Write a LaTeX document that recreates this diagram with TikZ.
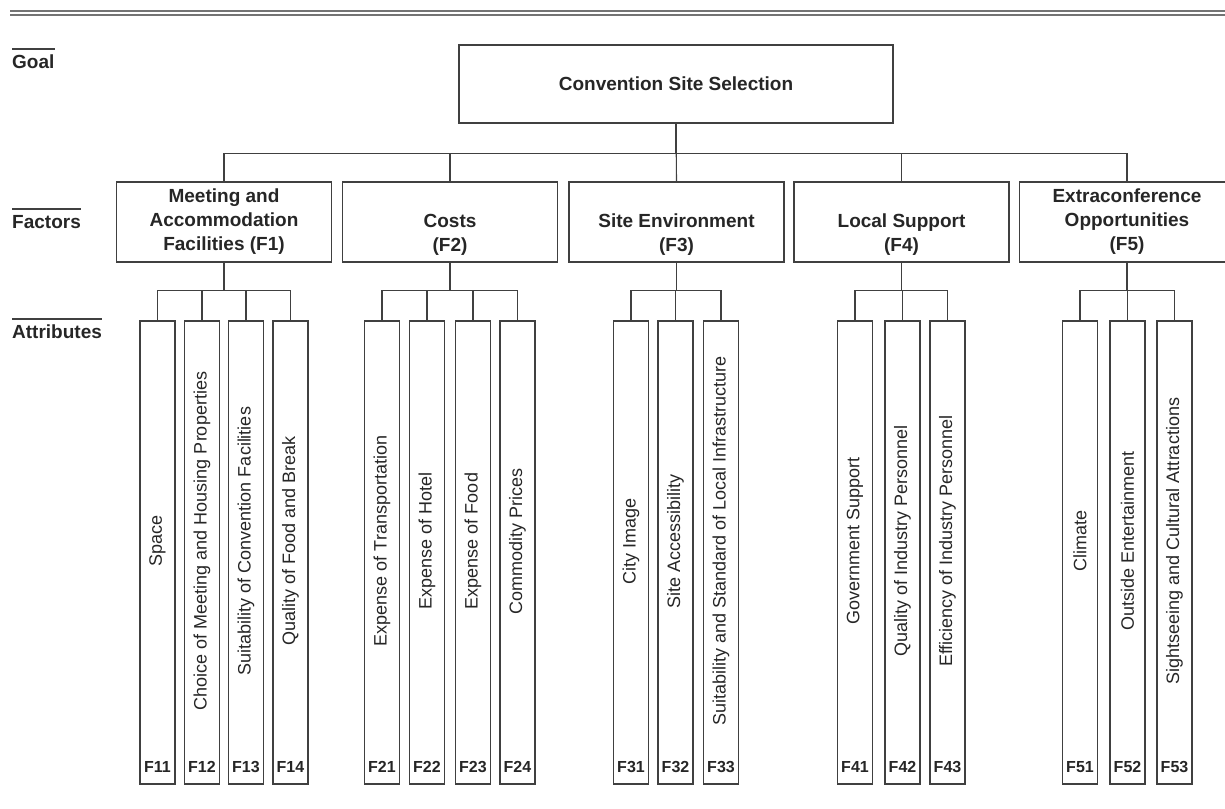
\documentclass[tikz,border=0pt]{standalone}
\usepackage{fontspec}
\setmainfont{Liberation Sans}
\usetikzlibrary{positioning}

\tikzset{
  box/.style={draw=black!75, line width=1.1pt, rectangle, inner sep=0pt, text=black!85},
  goalbox/.style={box, minimum width=434pt, minimum height=78pt,
    font=\bfseries\fontsize{19}{24}\selectfont},
  factorbox/.style={box, minimum width=215pt, minimum height=80pt, align=center,
    font=\bfseries\fontsize{19}{24}\selectfont},
  attrbox/.style={box, minimum width=35pt, minimum height=463pt},
  attrtext/.style={rotate=90, inner sep=0pt, text=black!85,
    font=\fontsize{18}{20}\selectfont},
  attrid/.style={anchor=base, inner sep=0pt, text=black!85,
    font=\bfseries\fontsize{16}{18}\selectfont},
  levellabel/.style={anchor=base west, inner sep=0pt, text=black!85,
    font=\bfseries\fontsize{19}{24}\selectfont},
  link/.style={draw=black!75, line width=1.1pt},
}

\begin{document}
\begin{tikzpicture}[x=1pt, y=-1pt]
  \useasboundingbox (0,0) rectangle (1225,808);

  % double rule at the top
  \draw[black!55, line width=1.6pt] (10,10.8) -- (1225,10.8);
  \draw[black!55, line width=1.6pt] (10,14.8) -- (1225,14.8);

  % level labels
  \node (lgoal) [levellabel] at (12,68) {Goal};
  \node (lfactors) [levellabel] at (12,228) {Factors};
  \node (lattr) [levellabel] at (12,338) {Attributes};
  \draw[link] ([yshift=19pt]lgoal.base west) -- ([yshift=19pt]lgoal.base east);
  \draw[link] ([yshift=19pt]lfactors.base west) -- ([yshift=19pt]lfactors.base east);
  \draw[link] ([yshift=19pt]lattr.base west) -- ([yshift=19pt]lattr.base east);

  % goal and factors
  \node (goal) [goalbox] at (676,84) {Convention Site Selection};
  \node (f1) [factorbox] at (224,222) {Meeting and\\Accommodation\\Facilities (F1)};
  \node (f2) [factorbox] at (450,222) {\rule{0pt}{14pt}\\Costs\\(F2)};
  \node (f3) [factorbox] at (676.5,222) {\rule{0pt}{14pt}\\Site Environment\\(F3)};
  \node (f4) [factorbox] at (901.5,222) {\rule{0pt}{14pt}\\Local Support\\(F4)};
  \node (f5) [factorbox] at (1127,222) {Extraconference\\Opportunities\\(F5)};

  \draw[link] (goal.south) -- ++(0,30) -| (f1.north);
  \draw[link] (goal.south) -- ++(0,30) -| (f2.north);
  \draw[link] (goal.south) -- (f3.north);
  \draw[link] (goal.south) -- ++(0,30) -| (f4.north);
  \draw[link] (goal.south) -- ++(0,30) -| (f5.north);

  % attributes of F1
  \node (a11) [attrbox] at (157.5,552.5) {};
  \node (a12) [attrbox] at (202,552.5) {};
  \node (a13) [attrbox] at (246,552.5) {};
  \node (a14) [attrbox] at (290.5,552.5) {};
  \node (t11) [attrtext] at ([yshift=11.5pt]a11.center) {Space};
  \node (t12) [attrtext] at ([yshift=11.5pt]a12.center) {Choice of Meeting and Housing Properties};
  \node (t13) [attrtext] at ([yshift=11.5pt]a13.center) {Suitability of Convention Facilities};
  \node (t14) [attrtext] at ([yshift=11.5pt]a14.center) {Quality of Food and Break};
  \node (n11) [attrid] at ([yshift=12pt]a11.south) {F11};
  \node (n12) [attrid] at ([yshift=12pt]a12.south) {F12};
  \node (n13) [attrid] at ([yshift=12pt]a13.south) {F13};
  \node (n14) [attrid] at ([yshift=12pt]a14.south) {F14};

  % attributes of F2
  \node (a21) [attrbox] at (382,552.5) {};
  \node (a22) [attrbox] at (427,552.5) {};
  \node (a23) [attrbox] at (473,552.5) {};
  \node (a24) [attrbox] at (517.5,552.5) {};
  \node (t21) [attrtext] at ([yshift=11.5pt]a21.center) {Expense of Transportation};
  \node (t22) [attrtext] at ([yshift=11.5pt]a22.center) {Expense of Hotel};
  \node (t23) [attrtext] at ([yshift=11.5pt]a23.center) {Expense of Food};
  \node (t24) [attrtext] at ([yshift=11.5pt]a24.center) {Commodity Prices};
  \node (n21) [attrid] at ([yshift=12pt]a21.south) {F21};
  \node (n22) [attrid] at ([yshift=12pt]a22.south) {F22};
  \node (n23) [attrid] at ([yshift=12pt]a23.south) {F23};
  \node (n24) [attrid] at ([yshift=12pt]a24.south) {F24};

  % attributes of F3
  \node (a31) [attrbox] at (631,552.5) {};
  \node (a32) [attrbox] at (675.5,552.5) {};
  \node (a33) [attrbox] at (721,552.5) {};
  \node (t31) [attrtext] at ([yshift=11.5pt]a31.center) {City Image};
  \node (t32) [attrtext] at ([yshift=11.5pt]a32.center) {Site Accessibility};
  \node (t33) [attrtext] at ([yshift=11.5pt]a33.center) {Suitability and Standard of Local Infrastructure};
  \node (n31) [attrid] at ([yshift=12pt]a31.south) {F31};
  \node (n32) [attrid] at ([yshift=12pt]a32.south) {F32};
  \node (n33) [attrid] at ([yshift=12pt]a33.south) {F33};

  % attributes of F4
  \node (a41) [attrbox] at (855,552.5) {};
  \node (a42) [attrbox] at (902.5,552.5) {};
  \node (a43) [attrbox] at (947.5,552.5) {};
  \node (t41) [attrtext] at ([yshift=11.5pt]a41.center) {Government Support};
  \node (t42) [attrtext] at ([yshift=11.5pt]a42.center) {Quality of Industry Personnel};
  \node (t43) [attrtext] at ([yshift=11.5pt]a43.center) {Efficiency of Industry Personnel};
  \node (n41) [attrid] at ([yshift=12pt]a41.south) {F41};
  \node (n42) [attrid] at ([yshift=12pt]a42.south) {F42};
  \node (n43) [attrid] at ([yshift=12pt]a43.south) {F43};

  % attributes of F5
  \node (a51) [attrbox] at (1080,552.5) {};
  \node (a52) [attrbox] at (1127.5,552.5) {};
  \node (a53) [attrbox] at (1174.5,552.5) {};
  \node (t51) [attrtext] at ([yshift=11.5pt]a51.center) {Climate};
  \node (t52) [attrtext] at ([yshift=11.5pt]a52.center) {Outside Entertainment};
  \node (t53) [attrtext] at ([yshift=11.5pt]a53.center) {Sightseeing and Cultural Attractions};
  \node (n51) [attrid] at ([yshift=12pt]a51.south) {F51};
  \node (n52) [attrid] at ([yshift=12pt]a52.south) {F52};
  \node (n53) [attrid] at ([yshift=12pt]a53.south) {F53};

  % factor to attribute links
  \draw[link] (f1.south) -- ++(0,28) -| (a11.north);
  \draw[link] (f1.south) -- ++(0,28) -| (a12.north);
  \draw[link] (f1.south) -- ++(0,28) -| (a13.north);
  \draw[link] (f1.south) -- ++(0,28) -| (a14.north);
  \draw[link] (f2.south) -- ++(0,28) -| (a21.north);
  \draw[link] (f2.south) -- ++(0,28) -| (a22.north);
  \draw[link] (f2.south) -- ++(0,28) -| (a23.north);
  \draw[link] (f2.south) -- ++(0,28) -| (a24.north);
  \draw[link] (f3.south) -- ++(0,28) -| (a31.north);
  \draw[link] (f3.south) -- ++(0,28) -| (a32.north);
  \draw[link] (f3.south) -- ++(0,28) -| (a33.north);
  \draw[link] (f4.south) -- ++(0,28) -| (a41.north);
  \draw[link] (f4.south) -- ++(0,28) -| (a42.north);
  \draw[link] (f4.south) -- ++(0,28) -| (a43.north);
  \draw[link] (f5.south) -- ++(0,28) -| (a51.north);
  \draw[link] (f5.south) -- ++(0,28) -| (a52.north);
  \draw[link] (f5.south) -- ++(0,28) -| (a53.north);
\end{tikzpicture}
\end{document}
